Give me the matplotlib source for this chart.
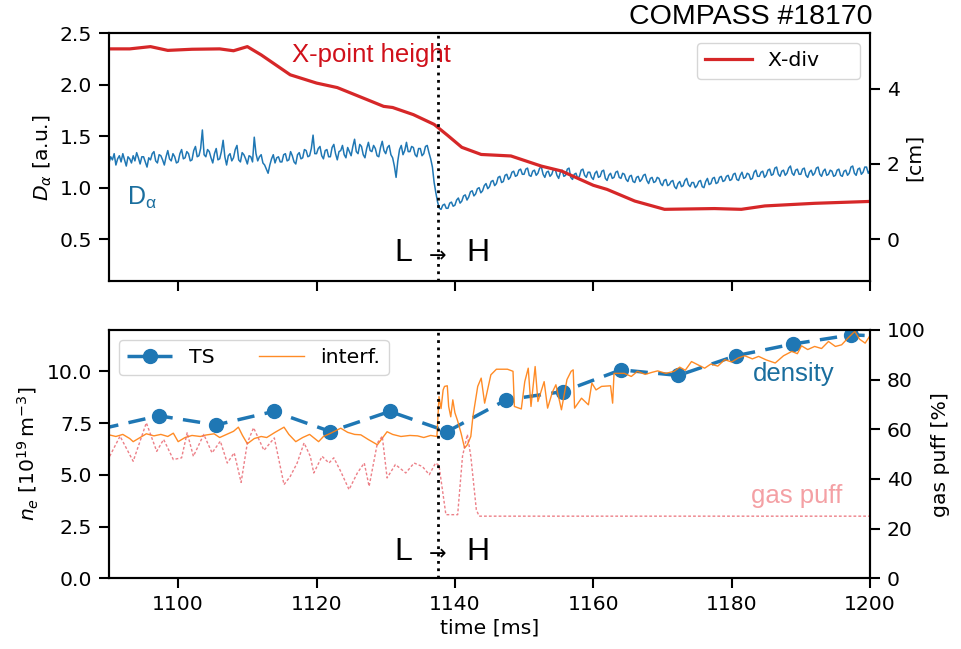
import numpy as np
import matplotlib
matplotlib.use('Agg')
import matplotlib.pyplot as plt

plt.rcParams['font.size'] = 14.7
plt.rcParams['axes.linewidth'] = 1.5

# --- data ---
# D_alpha signal, sampled every 0.25 ms from 1090 ms
da_t0 = 1090.0
da_dt = 0.25
da_vals = [
    1.24, 1.30, 1.27, 1.33, 1.22, 1.28, 1.31, 1.25, 1.33, 1.27, 1.21, 1.30, 1.28, 1.24, 1.31, 1.26, 1.34, 1.29, 1.23, 1.30,
    1.30, 1.25, 1.20, 1.29, 1.27, 1.33, 1.35, 1.26, 1.24, 1.32, 1.31, 1.27, 1.22, 1.30, 1.36, 1.28, 1.26, 1.33, 1.30, 1.24,
    1.25, 1.33, 1.37, 1.28, 1.29, 1.35, 1.33, 1.26, 1.27, 1.36, 1.40, 1.30, 1.31, 1.38, 1.56, 1.32, 1.30, 1.37, 1.35, 1.29,
    1.24, 1.33, 1.38, 1.27, 1.28, 1.35, 1.46, 1.30, 1.22, 1.31, 1.33, 1.26, 1.29, 1.37, 1.41, 1.27, 1.25, 1.34, 1.32, 1.28,
    1.23, 1.31, 1.30, 1.25, 1.49, 1.33, 1.26, 1.30, 1.32, 1.24, 1.22, 1.18, 1.14, 1.22, 1.28, 1.32, 1.24, 1.29, 1.30, 1.25,
    1.25, 1.32, 1.33, 1.26, 1.27, 1.35, 1.31, 1.25, 1.23, 1.32, 1.34, 1.28, 1.29, 1.37, 1.36, 1.30, 1.31, 1.38, 1.51, 1.33,
    1.33, 1.38, 1.40, 1.31, 1.28, 1.36, 1.37, 1.30, 1.30, 1.39, 1.42, 1.33, 1.27, 1.35, 1.36, 1.41, 1.32, 1.29, 1.39, 1.35,
    1.31, 1.40, 1.47, 1.35, 1.33, 1.42, 1.40, 1.32, 1.29, 1.38, 1.44, 1.36, 1.35, 1.41, 1.38, 1.31, 1.30, 1.39, 1.45, 1.36,
    1.33, 1.39, 1.41, 1.32, 1.29, 1.21, 1.10, 1.26, 1.37, 1.41, 1.32, 1.36, 1.44, 1.35, 1.35, 1.40, 1.39, 1.32, 1.30, 1.38,
    1.38, 1.31, 1.33, 1.40, 1.41, 1.34, 1.28, 1.20, 1.05, 0.95, 0.86, 0.80, 0.79, 0.83, 0.84, 0.80, 0.80, 0.85, 0.86, 0.82,
    0.83, 0.88, 0.90, 0.85, 0.87, 0.92, 0.93, 0.88, 0.91, 0.96, 0.97, 0.92, 0.94, 0.99, 1.00, 0.95, 0.97, 1.02, 1.04, 0.99,
    1.01, 1.06, 1.07, 1.02, 1.04, 1.10, 1.11, 1.05, 1.06, 1.12, 1.13, 1.08, 1.10, 1.15, 1.16, 1.11, 1.12, 1.17, 1.18, 1.13,
    1.13, 1.18, 1.19, 1.12, 1.11, 1.16, 1.17, 1.12, 1.14, 1.19, 1.20, 1.13, 1.10, 1.15, 1.16, 1.11, 1.13, 1.18, 1.18, 1.12,
    1.09, 1.15, 1.17, 1.11, 1.12, 1.18, 1.19, 1.10, 1.08, 1.13, 1.14, 1.09, 1.11, 1.17, 1.18, 1.12, 1.10, 1.15, 1.15, 1.10,
    1.08, 1.14, 1.16, 1.10, 1.11, 1.16, 1.17, 1.09, 1.07, 1.12, 1.14, 1.09, 1.10, 1.15, 1.16, 1.10, 1.09, 1.14, 1.13, 1.08,
    1.06, 1.11, 1.12, 1.06, 1.05, 1.10, 1.11, 1.06, 1.08, 1.12, 1.13, 1.07, 1.04, 1.09, 1.10, 1.05, 1.06, 1.10, 1.09, 1.04,
    1.02, 1.07, 1.08, 1.02, 1.03, 1.06, 1.07, 1.01, 0.99, 1.04, 1.06, 1.01, 1.02, 1.07, 1.09, 1.03, 1.01, 1.05, 1.05, 1.00,
    1.02, 1.06, 1.07, 1.01, 1.00, 1.06, 1.09, 1.03, 1.04, 1.09, 1.10, 1.04, 1.05, 1.10, 1.11, 1.06, 1.07, 1.11, 1.12, 1.07,
    1.08, 1.13, 1.14, 1.08, 1.07, 1.12, 1.15, 1.09, 1.10, 1.14, 1.13, 1.08, 1.09, 1.15, 1.17, 1.11, 1.11, 1.15, 1.16, 1.10,
    1.12, 1.17, 1.18, 1.12, 1.13, 1.19, 1.20, 1.13, 1.11, 1.16, 1.17, 1.12, 1.14, 1.19, 1.21, 1.14, 1.12, 1.17, 1.18, 1.13,
    1.13, 1.18, 1.19, 1.12, 1.10, 1.15, 1.17, 1.12, 1.14, 1.19, 1.20, 1.13, 1.11, 1.16, 1.18, 1.12, 1.13, 1.17, 1.16, 1.11,
    1.12, 1.17, 1.18, 1.12, 1.11, 1.16, 1.17, 1.12, 1.14, 1.20, 1.21, 1.14, 1.12, 1.18, 1.19, 1.13, 1.15, 1.20, 1.20, 1.14,
    1.17,
]
da_t = da_t0 + da_dt * np.arange(len(da_vals))

# X-point height [cm]
xdiv_t = [1090, 1093, 1096, 1098.5, 1102, 1106, 1108, 1110, 1112, 1116.2,
          1120, 1123, 1127.3, 1129.7, 1131, 1134, 1137, 1139, 1141, 1143.8,
          1148.1, 1152.5, 1155.4, 1160, 1162, 1166, 1170.3, 1177.5, 1181.4,
          1184.8, 1192, 1200]
xdiv_cm = [5.06, 5.06, 5.12, 5.02, 5.05, 5.06, 5.01, 5.12, 4.90, 4.37,
           4.15, 4.03, 3.71, 3.53, 3.50, 3.31, 3.05, 2.75, 2.44, 2.25,
           2.21, 1.94, 1.81, 1.43, 1.32, 1.01, 0.79, 0.81, 0.79,
           0.88, 0.95, 1.00]

# Thomson scattering density
ts_t = [1088.9, 1097.2, 1105.5, 1113.8, 1122.0, 1130.6, 1138.9, 1147.4,
        1155.6, 1164.0, 1172.3, 1180.6, 1188.9, 1197.3, 1205.6]
ts_ne = [7.22, 7.85, 7.41, 8.06, 7.09, 8.06, 7.09, 8.62,
         9.02, 10.07, 9.80, 10.75, 11.32, 11.76, 11.64]

# interferometer density
if_t = [1090, 1091, 1092, 1093, 1093.5, 1094.5, 1095.4, 1096.5, 1097.5, 1098.5,
        1099.3, 1100, 1101, 1102, 1103.2, 1104, 1105.2, 1106, 1107, 1108,
        1108.7, 1109.3, 1110, 1111, 1112, 1112.8, 1114, 1115.3, 1116, 1117,
        1118, 1119, 1120.3, 1121, 1122, 1123.5, 1124.5, 1125.5, 1126.4, 1127.5,
        1128.8, 1130.2, 1131, 1132.2, 1133.5, 1134.6, 1135.5, 1136.5, 1137.4,
        1137.7, 1138.0, 1138.3, 1138.5, 1138.9, 1139.1, 1139.4, 1139.7, 1140.0, 1140.4,
        1140.9, 1141.4, 1141.8, 1142.3, 1142.6, 1143.3, 1143.8, 1144.3, 1145.2, 1146,
        1147.6, 1148.4, 1148.6, 1149.6, 1150.1, 1150.6, 1151.0, 1151.6, 1152, 1152.9,
        1153.4, 1154.1, 1154.6, 1155.4, 1156.2, 1156.8, 1157.1, 1157.3, 1158.3, 1159.3,
        1159.8, 1160.4, 1161.2, 1162.5, 1162.8, 1163.0, 1164.5, 1165.5, 1166.4, 1167.5,
        1168.5, 1169.3, 1170.5, 1171.7, 1172.5, 1173.3, 1174.2, 1175.2, 1176.1, 1177.0,
        1178, 1179, 1180, 1181, 1181.9, 1183, 1183.9, 1185, 1186.3, 1187.5,
        1188.7, 1189.5, 1190.1, 1191, 1192, 1193, 1194, 1195, 1195.9, 1196.8,
        1197.8, 1198.5, 1199.3, 1200]
if_ne = [6.93, 6.85, 6.95, 6.75, 6.60, 6.80, 6.98, 6.88, 6.95, 6.85,
         7.01, 6.60, 6.80, 6.90, 6.85, 6.92, 6.98, 6.80, 6.95, 7.10,
         7.30, 6.90, 6.50, 6.75, 6.85, 6.80, 7.05, 7.30, 6.95, 6.60,
         6.80, 6.95, 6.60, 6.85, 7.00, 7.25, 7.05, 6.95, 6.93, 6.70,
         6.45, 7.08, 6.95, 6.85, 6.90, 6.88, 6.80, 6.90, 6.85,
         8.78, 8.20, 9.10, 9.27, 9.30, 8.30, 7.80, 8.62, 8.00, 7.60,
         7.00, 6.29, 6.45, 6.85, 7.80, 9.27, 9.67, 8.46, 9.83, 10.10,
         10.10, 10.00, 8.30, 8.18, 9.50, 10.15, 8.30, 10.23, 8.54, 9.50,
         8.22, 9.00, 9.35, 8.14, 9.60, 10.00, 10.07, 8.22, 8.70, 8.38,
         9.43, 9.10, 9.27, 9.30, 8.46, 9.90, 9.90, 9.75, 10.00, 9.85,
         9.95, 10.02, 9.90, 10.00, 10.20, 10.05, 10.47, 10.30, 10.15, 10.35,
         10.25, 10.56, 10.45, 10.65, 10.75, 10.60, 10.72, 10.55, 10.40, 10.75,
         10.96, 10.85, 11.23, 11.05, 11.20, 11.10, 11.44, 11.20, 11.28, 11.60,
         11.93, 11.55, 11.36, 11.72]

# gas puff [%]
gp_t = [1090.1, 1091.6, 1093.5, 1095.4, 1096.9, 1097.9, 1099.3, 1100.5, 1101.3, 1102.2,
        1103.7, 1104.9, 1106.1, 1107.1, 1108.1, 1109.1, 1110, 1110.9, 1112.4, 1113.9,
        1115.3, 1116.2, 1117.2, 1118.2, 1119.1, 1119.6, 1120.8, 1121.8, 1122.5, 1123.5,
        1124.7, 1125.9, 1126.9, 1127.6, 1128.8, 1129.5, 1130.2, 1131.4, 1132.9, 1134.1,
        1135.3, 1136.3, 1137.2, 1137.7, 1138.7, 1140.4, 1141.1, 1141.8, 1142.3, 1143.1,
        1143.5, 1200]
gp_pct = [49.1, 57.2, 47.1, 62.6, 51.1, 55.9, 47.8, 48.5, 58.6, 49.1,
          57.9, 50.5, 55.2, 46.4, 50.5, 38.6, 54.5, 60.6, 51.5, 56.5,
          37.7, 41.0, 46.4, 54.5, 49.1, 42.4, 49.1, 46.4, 48.5, 43.0,
          35.7, 42.4, 46.4, 37.0, 54.5, 57.2, 40.4, 45.8, 42.4, 46.4,
          45.0, 41.7, 46.4, 45.5, 25.6, 25.6, 49.1, 57.9, 49.1, 27.6,
          25.0, 25.0]

t_LH = 1137.5
xticks = [1100, 1120, 1140, 1160, 1180, 1200]

fig, (ax1, ax2) = plt.subplots(2, 1, sharex=True, figsize=(9.61, 6.49), dpi=100)
fig.subplots_adjust(left=0.1134, right=0.9053, top=0.949, bottom=0.109, hspace=0.195)

ann = ['Liberation Sans', 'DejaVu Sans']

# ---- top panel ----
ax1.plot(da_t, da_vals, color='tab:blue', lw=1.1)
ax1.set_ylim(0.09, 2.5)
ax1.set_yticks([0.5, 1.0, 1.5, 2.0, 2.5])
ax1.set_ylabel(r'$D_\alpha$ [a.u.]')
ax1.text(1092.6, 0.83, r'$\mathregular{D_{α}}$', color='#1a6e9e', fontsize=18, family=ann)

ax1r = ax1.twinx()
ax1r.plot(xdiv_t, xdiv_cm, color='tab:red', lw=2.3, label='X-div')
ax1r.set_ylim(-1.13, 5.48)
ax1r.set_yticks([0, 2, 4])
ax1r.set_ylabel('[cm]')
ax1r.legend(['X-div     '], loc='upper right', handlelength=2.3)
ax1r.axvline(t_LH, color='k', ls=':', lw=2)
ax1.text(1116.5, 2.22, 'X-point height', color='#d0101a', fontsize=18.5, family=ann)
ax1.text(1131.2, 0.288, 'L', fontsize=23, family=ann)
ax1.text(1141.6, 0.288, 'H', fontsize=23, family=ann)
ax1.text(t_LH, 0.336, '→', fontsize=15, ha='center', va='center')
ax1.text(1.003, 1.012, 'COMPASS #18170', transform=ax1.transAxes, ha='right',
         va='bottom', fontsize=20.5, family=ann)

# ---- bottom panel ----
ax2.plot(ts_t, ts_ne, color='tab:blue', ls='--', lw=2.5, marker='o',
         markersize=10, dashes=(5, 3), label='TS')
ax2.plot(if_t, if_ne, color='tab:orange', lw=1, alpha=0.9, label='interf.')
ax2.set_ylim(0, 12)
ax2.set_yticks([0, 2.5, 5.0, 7.5, 10.0])
ax2.set_yticklabels(['0.0', '2.5', '5.0', '7.5', '10.0'])
ax2.set_ylabel(r'$n_e$ [$10^{19}\,\mathrm{m}^{-3}$]')
ax2.set_xlabel('time [ms]', labelpad=3)
ax2.legend(loc='upper left', ncol=2, columnspacing=2.2, handlelength=2.2)
ax2.text(1183.0, 9.51, 'density', color='#1a6e9e', fontsize=18.5, family=ann)
ax2.text(1182.75, 3.66, 'gas puff', color='#f4a0a4', fontsize=18.5, family=ann)
ax2.text(1131.2, 0.885, 'L', fontsize=23, family=ann)
ax2.text(1141.6, 0.885, 'H', fontsize=23, family=ann)
ax2.text(t_LH, 1.13, '→', fontsize=15, ha='center', va='center')

ax2r = ax2.twinx()
ax2r.plot(gp_t, gp_pct, color='#e8606a', lw=1, alpha=0.8, ls=(0, (2, 1.5)))
ax2r.set_ylim(0, 100)
ax2r.set_yticks([0, 20, 40, 60, 80, 100])
ax2r.set_ylabel('gas puff [%]')
ax2r.axvline(t_LH, color='k', ls=':', lw=2)

ax2.set_xlim(1090, 1200)
ax2.set_xticks(xticks)
for a in (ax1, ax2, ax1r, ax2r):
    a.tick_params(width=1.5, length=7, pad=5)

fig.savefig('out.png', dpi=100)
